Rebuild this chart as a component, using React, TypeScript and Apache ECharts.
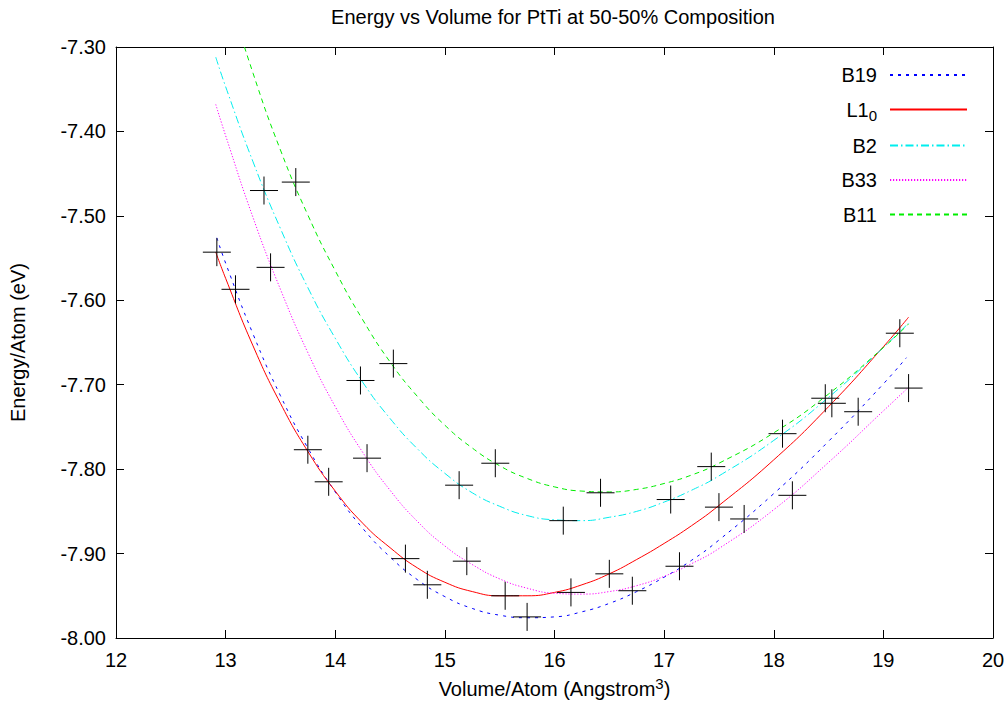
import React, { useEffect, useRef } from "react";
import * as echarts from "echarts";

// ---- text ----
const chartTitle = "Energy vs Volume for PtTi at 50-50% Composition";
const xAxisTitle = "Volume/Atom (Angstrom{sup|3})";
const yAxisTitle = "Energy/Atom (eV)";

// ---- fitted E(V) curves (volume in Å^3/atom, energy in eV/atom) ----
const b19FitVolume = [12.92, 13.0, 13.25, 13.5, 13.75, 14.0, 14.25, 14.5, 14.75, 15.0, 15.25, 15.5, 15.75, 16.0, 16.25, 16.5, 16.75, 17.0, 17.25, 17.5, 18.0, 18.5, 19.0, 19.21];
const b19FitEnergy = [-7.526, -7.556, -7.64, -7.713, -7.775, -7.827, -7.87, -7.904, -7.931, -7.951, -7.965, -7.973, -7.976, -7.975, -7.969, -7.959, -7.945, -7.928, -7.908, -7.884, -7.829, -7.767, -7.699, -7.668];

const l10FitVolume = [12.91, 13.0, 13.25, 13.5, 13.75, 14.0, 14.25, 14.5, 14.75, 15.0, 15.25, 15.5, 15.75, 16.0, 16.25, 16.5, 16.75, 17.0, 17.25, 17.5, 18.0, 18.5, 19.0, 19.23];
const l10FitEnergy = [-7.543, -7.574, -7.654, -7.722, -7.779, -7.826, -7.864, -7.893, -7.917, -7.934, -7.945, -7.95, -7.95, -7.946, -7.937, -7.924, -7.907, -7.888, -7.867, -7.843, -7.789, -7.726, -7.655, -7.62];

const b2FitVolume = [12.91, 13.0, 13.25, 13.5, 13.75, 14.0, 14.25, 14.5, 14.75, 15.0, 15.25, 15.5, 15.75, 16.0, 16.25, 16.5, 16.75, 17.0, 17.25, 17.5, 18.0, 18.5, 19.0, 19.23];
const b2FitEnergy = [-7.312, -7.347, -7.436, -7.515, -7.585, -7.645, -7.697, -7.74, -7.776, -7.805, -7.828, -7.844, -7.855, -7.86, -7.861, -7.857, -7.85, -7.839, -7.825, -7.808, -7.766, -7.715, -7.656, -7.627];

const b33FitVolume = [12.91, 13.0, 13.25, 13.5, 13.75, 14.0, 14.25, 14.5, 14.75, 15.0, 15.25, 15.5, 15.75, 16.0, 16.25, 16.5, 16.75, 17.0, 17.25, 17.5, 18.0, 18.5, 19.0, 19.23];
const b33FitEnergy = [-7.368, -7.405, -7.502, -7.587, -7.662, -7.726, -7.78, -7.825, -7.862, -7.891, -7.913, -7.93, -7.941, -7.947, -7.948, -7.945, -7.938, -7.927, -7.912, -7.894, -7.848, -7.792, -7.731, -7.703];

const b11FitVolume = [12.91, 13.0, 13.25, 13.5, 13.75, 14.0, 14.25, 14.5, 14.75, 15.0, 15.25, 15.5, 15.75, 16.0, 16.25, 16.5, 16.75, 17.0, 17.25, 17.5, 18.0, 18.5, 19.0, 19.23];
const b11FitEnergy = [-7.188, -7.227, -7.331, -7.422, -7.499, -7.565, -7.623, -7.673, -7.714, -7.748, -7.775, -7.796, -7.811, -7.821, -7.826, -7.827, -7.824, -7.817, -7.807, -7.793, -7.757, -7.711, -7.656, -7.628];

// ---- calculated points ----
const b19Volume = [13.09, 13.94, 14.84, 15.75, 16.71, 17.73, 18.77];
const b19Energy = [-7.587, -7.815, -7.937, -7.975, -7.944, -7.859, -7.732];

const l10Volume = [12.92, 13.75, 14.64, 15.55, 16.5, 17.5, 18.53];
const l10Energy = [-7.543, -7.777, -7.906, -7.95, -7.924, -7.845, -7.722];

const b2Volume = [13.35, 14.23, 15.13, 16.08, 17.06, 18.08, 19.15];
const b2Energy = [-7.47, -7.695, -7.819, -7.861, -7.836, -7.758, -7.639];

const b33Volume = [13.41, 14.29, 15.2, 16.15, 17.14, 18.17, 19.23];
const b33Energy = [-7.561, -7.787, -7.909, -7.946, -7.915, -7.831, -7.704];

const b11Volume = [13.64, 14.53, 15.46, 16.42, 17.43, 18.47];
const b11Energy = [-7.46, -7.675, -7.793, -7.828, -7.797, -7.716];

// ---- axes ----
const volumeMin = 12;
const volumeMax = 20;
const volumeStep = 1;
const energyMin = -8.0;
const energyMax = -7.3;
const energyStep = 0.1;

const fontFamily = "'Liberation Sans', Arial, Helvetica, sans-serif";
const crossSymbol = "path://M14 0L14 28M0 14L28 14";

const pairs = (xs: number[], ys: number[]) => xs.map((x, i) => [x, ys[i]]);

const structures = [
  { name: "B19", fitV: b19FitVolume, fitE: b19FitEnergy, v: b19Volume, e: b19Energy, color: "#0000ff", dash: [3, 5] },
  { name: "L10", fitV: l10FitVolume, fitE: l10FitEnergy, v: l10Volume, e: l10Energy, color: "#ff0000", dash: "solid" },
  { name: "B2", fitV: b2FitVolume, fitE: b2FitEnergy, v: b2Volume, e: b2Energy, color: "#00eeee", dash: [8, 3, 1.5, 3] },
  { name: "B33", fitV: b33FitVolume, fitE: b33FitEnergy, v: b33Volume, e: b33Energy, color: "#ff00ff", dash: [1.2, 1.8] },
  { name: "B11", fitV: b11FitVolume, fitE: b11FitEnergy, v: b11Volume, e: b11Energy, color: "#00ee00", dash: [5, 4] },
];

const axisLineStyle = { color: "#000", width: 1 };

export default function App() {
  const ref = useRef<HTMLDivElement>(null);

  useEffect(() => {
    if (!ref.current) return;
    const chart = echarts.init(ref.current, undefined, { renderer: "svg" });

    const lineSeries = structures.map((s) => ({
      name: s.name,
      type: "line",
      data: pairs(s.fitV, s.fitE),
      symbol: "none",
      showSymbol: false,
      smooth: 0.5,
      silent: true,
      clip: true,
      z: 2,
      itemStyle: { color: s.color },
      lineStyle: { color: s.color, width: 1, type: s.dash },
    }));

    const pointSeries = structures.map((s) => ({
      name: s.name + " points",
      type: "scatter",
      data: pairs(s.v, s.e),
      symbol: crossSymbol,
      symbolSize: 28,
      silent: true,
      z: 3,
      itemStyle: { color: "transparent", borderColor: "#000", borderWidth: 1, opacity: 1 },
    }));

    const tickAxis = (extra: any) => ({
      type: "value",
      axisLine: { show: true, onZero: false, lineStyle: axisLineStyle },
      axisTick: { show: true, inside: true, length: 8, lineStyle: axisLineStyle },
      splitLine: { show: false },
      ...extra,
    });

    chart.setOption({
      animation: false,
      backgroundColor: "#fff",
      textStyle: { fontFamily },
      grid: { left: 116, right: 15, top: 47, bottom: 66, show: false },
      graphic: [
        {
          type: "text",
          x: 553,
          y: 7,
          silent: true,
          style: {
            text: chartTitle,
            fontSize: 20,
            fontFamily,
            fill: "#000",
            align: "center",
            verticalAlign: "top",
          },
        },
      ],
      legend: {
        data: structures.map((s) => s.name),
        orient: "vertical",
        right: 40,
        top: 63,
        padding: 0,
        align: "right",
        itemWidth: 77,
        itemHeight: 14,
        itemGap: 10.5,
        selectedMode: false,
        itemStyle: { opacity: 0 },
        formatter: (name: string) => (name === "L10" ? "L1{sub|0}" : name),
        textStyle: {
          fontSize: 20,
          fontFamily,
          color: "#000",
          lineHeight: 24,
          padding: [0, 8, 0, 0],
          rich: {
            sub: { fontSize: 15, fontFamily, color: "#000", padding: [12, 0, 0, 0] },
          },
        },
      },
      xAxis: [
        tickAxis({
          position: "bottom",
          min: volumeMin,
          max: volumeMax,
          interval: volumeStep,
          axisLabel: { fontSize: 20, color: "#000", margin: 12, fontFamily },
          name: xAxisTitle,
          nameLocation: "middle",
          nameGap: 38,
          nameTextStyle: {
            fontSize: 20,
            color: "#000",
            fontFamily,
            rich: { sup: { fontSize: 15, fontFamily, color: "#000", padding: [0, 0, 10, 0] } },
          },
        }),
        tickAxis({
          position: "top",
          min: volumeMin,
          max: volumeMax,
          interval: volumeStep,
          axisLabel: { show: false },
        }),
      ],
      yAxis: [
        tickAxis({
          position: "left",
          min: energyMin,
          max: energyMax,
          interval: energyStep,
          axisLabel: {
            fontSize: 20,
            color: "#000",
            margin: 10,
            fontFamily,
            formatter: (v: number) => v.toFixed(2),
          },
          name: yAxisTitle,
          nameLocation: "middle",
          nameGap: 88,
          nameRotate: 90,
          nameTextStyle: { fontSize: 20, color: "#000", fontFamily },
        }),
        tickAxis({
          position: "right",
          min: energyMin,
          max: energyMax,
          interval: energyStep,
          axisLabel: { show: false },
        }),
      ],
      series: [...lineSeries, ...pointSeries],
    });

    return () => chart.dispose();
  }, []);

  return (
    <div
      ref={ref}
      style={{ position: "fixed", left: 0, top: 0, width: 1008, height: 704, background: "#fff" }}
    />
  );
}
